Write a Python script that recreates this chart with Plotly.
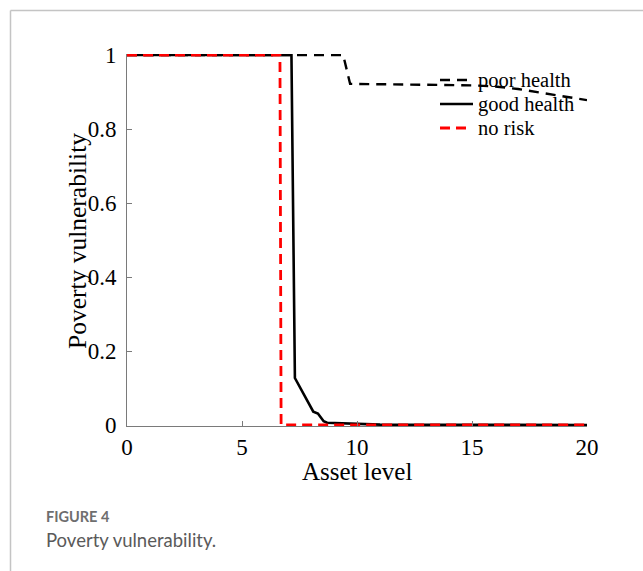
import plotly.graph_objects as go

# Poverty vulnerability as a function of asset level
poor_x = [0, 9.4, 9.7, 15, 16, 17, 18, 19, 20]
poor_y = [1, 1, 0.922, 0.918, 0.915, 0.908, 0.898, 0.887, 0.878]

good_x = [0, 7.15, 7.3, 8.1, 8.3, 8.55, 8.7, 10, 11, 20]
good_y = [1, 1, 0.127, 0.036, 0.031, 0.010, 0.006, 0.003, 0.001, 0]

norisk_x = [0, 6.65, 6.7, 20]
norisk_y = [1, 1, 0, 0]

x_ticks = [0, 5, 10, 15, 20]
y_ticks = [0, 0.2, 0.4, 0.6, 0.8, 1]
y_tick_text = ["0", "0.2", "0.4", "0.6", "0.8", "1"]

W, H = 643, 571
ML, MR, MT, MB = 127, 56, 54, 145
PW, PH = W - ML - MR, H - MT - MB


def px(x):
    return (x - ML) / PW


def py(y):
    return (H - MB - y) / PH


SERIF = "Liberation Serif, Times New Roman, serif"
AXIS_GRAY = "#7a7a7a"

series = [
    ("poor health", poor_x, poor_y, dict(color="black", width=2.4, dash="10px,7px"), 473),
    ("good health", good_x, good_y, dict(color="black", width=2.6), 473),
    ("no risk", norisk_x, norisk_y, dict(color="#ff0000", width=2.8, dash="10px,6px"), 466),
]

fig = go.Figure()
for name, xs, ys, ln, _ in series:
    fig.add_trace(go.Scatter(x=xs, y=ys, mode="lines", name=name, line=ln,
                             showlegend=False))

pad = 1 / 370
x_range = [0, 20]
y_range = [-pad, 1 + pad]
fig.update_layout(
    width=W, height=H,
    margin=dict(l=ML, r=MR, t=MT, b=MB, pad=0),
    paper_bgcolor="white", plot_bgcolor="white",
    # labelled axes: transparent outside ticks only space the labels off the axis line
    xaxis=dict(range=x_range, tickvals=x_ticks, ticks="", showline=True,
               linecolor=AXIS_GRAY, linewidth=1, showgrid=False, zeroline=False,
               tickfont=dict(family=SERIF, size=23, color="black")),
    yaxis=dict(range=y_range, tickvals=y_ticks, ticktext=y_tick_text,
               ticks="outside", ticklen=5, tickcolor="rgba(0,0,0,0)",
               showline=True, linecolor=AXIS_GRAY, linewidth=1,
               showgrid=False, zeroline=False,
               tickfont=dict(family=SERIF, size=23, color="black")),
    # overlay axes carrying the inward tick marks
    xaxis2=dict(range=x_range, tickvals=x_ticks, ticks="inside", ticklen=5,
                tickcolor=AXIS_GRAY, showticklabels=False, showline=False,
                showgrid=False, zeroline=False, overlaying="x", side="bottom",
                anchor="y"),
    yaxis2=dict(range=y_range, tickvals=y_ticks, ticks="inside", ticklen=5,
                tickcolor=AXIS_GRAY, showticklabels=False, showline=False,
                showgrid=False, zeroline=False, overlaying="y", side="left",
                anchor="x"),
)
# invisible trace binding the overlay axes
fig.add_trace(go.Scatter(x=[None], y=[None], xaxis="x2", yaxis="y2",
                         showlegend=False, hoverinfo="skip"))

# Axis titles
fig.add_annotation(text="Asset level", xref="paper", yref="paper",
                   x=px(357), y=py(471), xanchor="center", yanchor="middle",
                   showarrow=False, font=dict(family=SERIF, size=25, color="black"))
fig.add_annotation(text="Poverty vulnerability", xref="paper", yref="paper",
                   x=px(77), y=py(241), xanchor="center", yanchor="middle",
                   textangle=-90, showarrow=False,
                   font=dict(family=SERIF, size=25.5, color="black"))

# Legend drawn as line samples with labels, top right of the axes
legend_rows = [80, 104, 128]
for (name, _, _, ln, x_end), row in zip(series, legend_rows):
    fig.add_shape(type="line", xref="paper", yref="paper",
                  x0=px(440), x1=px(x_end), y0=py(row), y1=py(row),
                  line=dict(color=ln["color"], width=ln["width"],
                            dash=ln.get("dash", "solid")))
    fig.add_annotation(text=name, xref="paper", yref="paper",
                       x=px(476), y=py(row), xanchor="left", yanchor="middle",
                       showarrow=False,
                       font=dict(family=SERIF, size=20.5, color="black"))

# Outer frame of the figure panel
frame = dict(color="#c4c4c4", width=1.5)
fig.add_shape(type="line", xref="paper", yref="paper",
              x0=px(10.5), y0=py(10.5), x1=px(650), y1=py(10.5), line=frame)
fig.add_shape(type="line", xref="paper", yref="paper",
              x0=px(10.5), y0=py(10.5), x1=px(10.5), y1=py(580), line=frame)

# Caption
fig.add_annotation(text="FIGURE 4", xref="paper", yref="paper",
                   x=px(44), y=py(516), xanchor="left", yanchor="middle",
                   showarrow=False,
                   font=dict(family="Lato, Open Sans, sans-serif", size=14.5, color="#6e6e6e",
                             weight="bold"))
fig.add_annotation(text="Poverty vulnerability.", xref="paper", yref="paper",
                   x=px(44), y=py(540), xanchor="left", yanchor="middle",
                   showarrow=False,
                   font=dict(family="Lato, Open Sans, sans-serif", size=18.5, color="#5a5a5a"))

fig.write_html("out.html")
